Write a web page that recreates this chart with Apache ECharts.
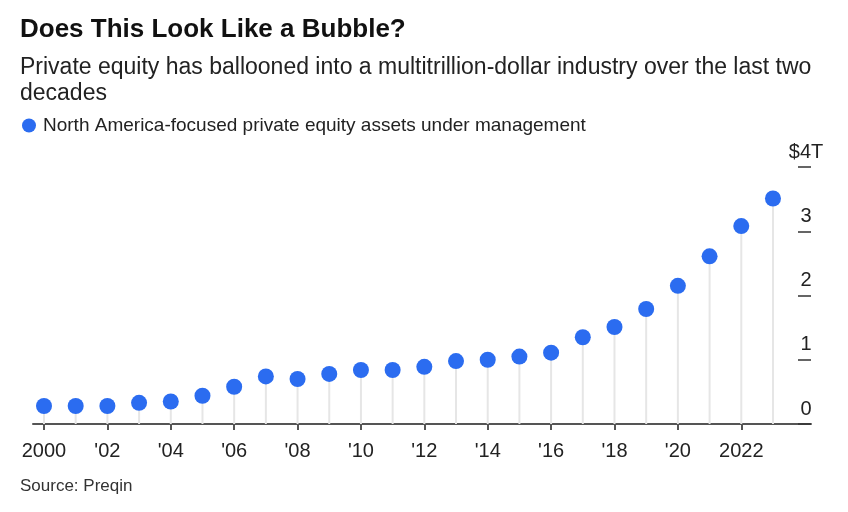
<!DOCTYPE html>
<html><head><meta charset="utf-8">
<script src="https://cdn.jsdelivr.net/npm/echarts@6/dist/echarts.min.js"></script>
<style>html,body{margin:0;padding:0;background:#fff}#c{width:848px;height:512px}</style>
</head><body><div id="c"></div>
<script>
const years = [2000,2001,2002,2003,2004,2005,2006,2007,2008,2009,2010,2011,2012,2013,2014,2015,2016,2017,2018,2019,2020,2021,2022,2023];
const aum = [0.28,0.28,0.28,0.33,0.35,0.44,0.58,0.74,0.70,0.78,0.84,0.84,0.89,0.98,1.00,1.05,1.11,1.35,1.51,1.79,2.15,2.61,3.08,3.51];
const xTickYears = [2000,2002,2004,2006,2008,2010,2012,2014,2016,2018,2020,2022];
const xTickLabels = ['2000',"'02","'04","'06","'08","'10","'12","'14","'16","'18","'20",'2022'];
const yTicks = [0,1,2,3,4];
const yTickLabels = ['0','1','2','3','$4T'];
const titleText = 'Does This Look Like a Bubble?';
const subtitleText = 'Private equity has ballooned into a multitrillion-dollar industry over the last two\ndecades';
const seriesName = 'North America-focused private equity assets under management';
const sourceText = 'Source: Preqin';

const FONT = '"Liberation Sans", Arial, Helvetica, sans-serif';
const chart = echarts.init(document.getElementById('c'), null, {renderer:'canvas'});
const pts = years.map((y,i)=>[y, aum[i]]);
chart.setOption({
  animation:false,
  backgroundColor:'#fff',
  title:[
    {text:titleText, left:20, top:17, padding:0,
     textStyle:{fontFamily:FONT, fontWeight:'bold', fontSize:26, color:'#111'}},
    {text:subtitleText, left:20, top:55, padding:0,
     textStyle:{fontFamily:FONT, fontWeight:'normal', fontSize:23, lineHeight:26, color:'#222'}},
    {text:sourceText, left:20, top:478, padding:0,
     textStyle:{fontFamily:FONT, fontWeight:'normal', fontSize:17, color:'#333'}}
  ],
  legend:{show:true, left:22, top:116, padding:0, icon:'circle', itemWidth:14, itemHeight:14,
    data:[seriesName],
    textStyle:{fontFamily:FONT, fontSize:19, color:'#222', padding:[0,0,0,2]}},
  grid:{left:33, right:37, top:167, bottom:88, containLabel:false},
  xAxis:{type:'value', min:1999.653, max:2024.2,
    splitLine:{show:false},
    axisLine:{show:true, lineStyle:{color:'#555', width:2}},
    axisTick:{show:true, customValues:xTickYears, length:6, lineStyle:{color:'#555', width:2}},
    axisLabel:{customValues:xTickYears, margin:17, fontFamily:FONT, fontSize:20, color:'#222',
      formatter:(v)=>{const i=xTickYears.indexOf(Math.round(v)); return i>=0?xTickLabels[i]:'';}}
  },
  yAxis:{type:'value', position:'right', min:0, max:4, interval:1,
    splitLine:{show:false},
    axisLine:{show:false},
    axisTick:{show:true, inside:true, length:13, lineStyle:{color:'#333', width:1.5}},
    axisLabel:{inside:true, margin:5, align:'center', verticalAlign:'bottom', padding:[0,0,5,0],
      fontFamily:FONT, fontSize:20, color:'#222',
      formatter:(v)=>{const i=yTicks.indexOf(v); return i>=0?yTickLabels[i]:'';}}
  },
  series:[
    {type:'bar', name:'stem', data:pts, barWidth:2, itemStyle:{color:'#e6e6e6'}, silent:true, z:1},
    {type:'scatter', name:seriesName, data:pts, symbol:'circle', symbolSize:16,
     itemStyle:{color:'#2b6cf0', opacity:1}, z:3}
  ]
});
</script></body></html>
